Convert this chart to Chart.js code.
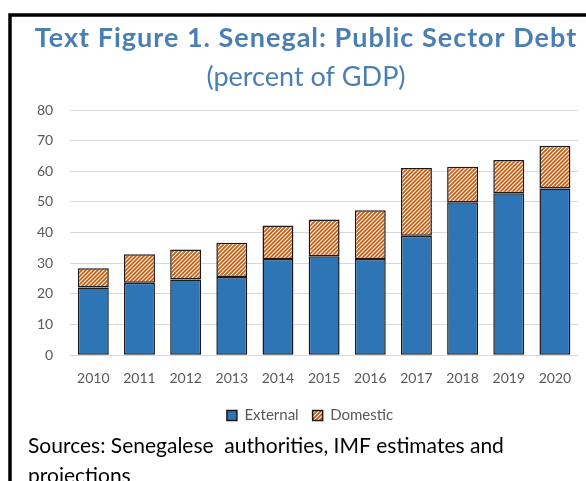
<!DOCTYPE html>
<html>
<head>
<meta charset="utf-8">
<script src="https://cdn.jsdelivr.net/npm/chart.js@4"></script>
<style>
  html, body { margin: 0; padding: 0; background: #fff; }
  #wrap { position: relative; width: 586px; height: 481px; overflow: hidden; }
</style>
</head>
<body>
<div id="wrap"><canvas id="debtChart" width="586" height="481"></canvas></div>
<script>
// Senegal public sector debt, percent of GDP
const years = ['2010', '2011', '2012', '2013', '2014', '2015', '2016', '2017', '2018', '2019', '2020'];
const externalDebt = [22.1, 23.6, 24.7, 25.5, 31.4, 32.3, 31.4, 39.0, 49.9, 52.8, 54.4];
const domesticDebt = [6.3, 9.3, 9.8, 11.2, 10.9, 12.0, 15.9, 22.1, 11.6, 10.9, 13.9];
const yTicks = [0, 10, 20, 30, 40, 50, 60, 70, 80];

const TITLE_BLUE = '#4a7fb5';
const AXIS_GREY = '#595959';

// orange / white diagonal hatch for the domestic part
function makeHatch() {
    const size = 4;
    const c = document.createElement('canvas');
    c.width = size;
    c.height = size;
    const ctx = c.getContext('2d');
    ctx.fillStyle = '#ffffff';
    ctx.fillRect(0, 0, size, size);
    ctx.strokeStyle = '#c55a11';
    ctx.lineWidth = 1.7;
    ctx.beginPath();
    ctx.moveTo(-1, size + 1); ctx.lineTo(size + 1, -1);
    ctx.moveTo(-1, 1); ctx.lineTo(1, -1);
    ctx.moveTo(size - 1, size + 1); ctx.lineTo(size + 1, size - 1);
    ctx.stroke();
    return ctx.createPattern(c, 'repeat');
}

// frame, headings and source note
const decorations = {
    id: 'decorations',
    afterLayout(chart) {
        // legend sits a little right of the plot centre
        chart.legend.left += 11;
        chart.legend.right += 11;
    },
    beforeDraw(chart) {
        const ctx = chart.ctx;
        ctx.save();
        ctx.fillStyle = '#fff';
        ctx.fillRect(0, 0, chart.width, chart.height);
        ctx.strokeStyle = '#000';
        ctx.lineWidth = 3.5;
        ctx.beginPath();
        ctx.moveTo(10, chart.height + 5);
        ctx.lineTo(10, 15);
        ctx.lineTo(chart.width + 5, 15);
        ctx.stroke();

        ctx.fillStyle = TITLE_BLUE;
        ctx.textAlign = 'center';
        ctx.textBaseline = 'alphabetic';
        ctx.font = 'bold 27px Lato';
        ctx.letterSpacing = '1px';
        ctx.fillText('Text Figure 1. Senegal: Public Sector Debt', 306, 47);
        ctx.letterSpacing = '0px';
        ctx.font = '27px Lato';
        ctx.fillText('(percent of GDP)', 306, 86);

        ctx.fillStyle = '#000';
        ctx.textAlign = 'left';
        ctx.font = '21px Lato';
        ctx.fillText('Sources: Senegalese  authorities, IMF estimates and', 28, 453);
        ctx.fillText('projections', 28, 483);
        ctx.restore();
    }
};

const hatch = makeHatch();

new Chart(document.getElementById('debtChart'), {
    type: 'bar',
    data: {
        labels: years,
        datasets: [
            {
                label: 'External',
                data: externalDebt,
                backgroundColor: '#2e75b6',
                borderColor: '#1a1a1a',
                borderWidth: 1.5,
                borderSkipped: false,
                barPercentage: 0.67,
                categoryPercentage: 1.0
            },
            {
                label: 'Domestic',
                data: domesticDebt,
                backgroundColor: hatch,
                borderColor: '#1a1a1a',
                borderWidth: 1.5,
                borderSkipped: false,
                barPercentage: 0.67,
                categoryPercentage: 1.0
            }
        ]
    },
    options: {
        responsive: false,
        animation: false,
        layout: { padding: { top: 110, left: 20, right: 8, bottom: 48 } },
        scales: {
            x: {
                stacked: true,
                grid: { display: false },
                border: { display: false },
                ticks: { color: AXIS_GREY, font: { family: 'Lato', size: 14 }, padding: 7 }
            },
            y: {
                stacked: true,
                min: 0,
                max: 80,
                afterBuildTicks(axis) { axis.ticks = yTicks.map(v => ({ value: v })); },
                grid: { color: '#d9d9d9', lineWidth: 1, drawTicks: false },
                border: { display: false },
                ticks: { color: AXIS_GREY, font: { family: 'Lato', size: 14 }, padding: 17 }
            }
        },
        plugins: {
            legend: {
                position: 'bottom',
                labels: {
                    color: AXIS_GREY,
                    font: { family: 'Lato', size: 15 },
                    boxWidth: 10,
                    boxHeight: 10,
                    padding: 14
                }
            },
            tooltip: { enabled: false }
        }
    },
    plugins: [decorations]
});
</script>
</body>
</html>
